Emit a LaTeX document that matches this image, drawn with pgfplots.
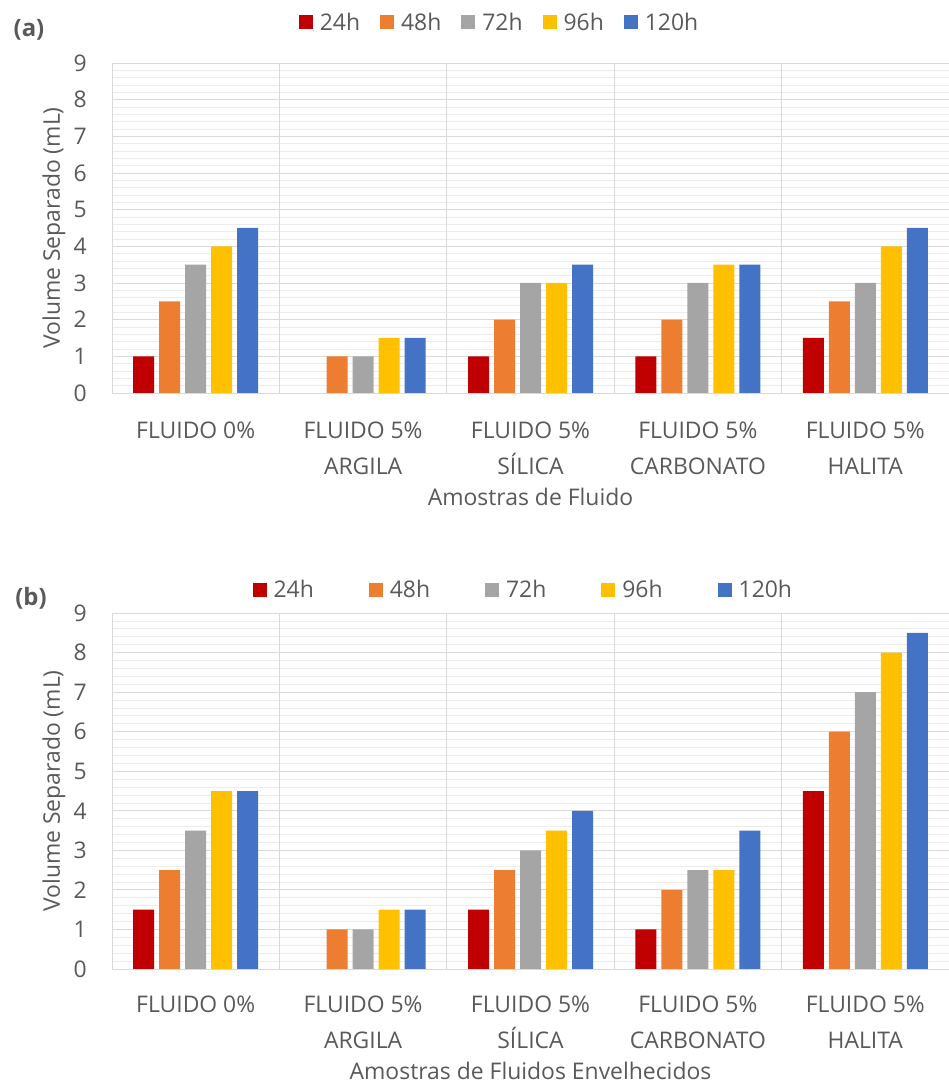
\documentclass[border=0pt]{standalone}
\usepackage{pgfplots}
\pgfplotsset{compat=1.18}
\usepackage{fontspec}
\setmainfont{Open Sans}
\definecolor{txt}{RGB}{89,89,89}
\definecolor{c24}{RGB}{192,0,0}
\definecolor{c48}{RGB}{237,125,49}
\definecolor{c72}{RGB}{165,165,165}
\definecolor{c96}{RGB}{255,192,0}
\definecolor{c120}{RGB}{68,114,196}
\definecolor{gmaj}{RGB}{217,217,217}
\definecolor{gmin}{RGB}{236,236,236}
\pgfplotsset{
 mystyle/.style={
  scale only axis, width=837bp, anchor=south west,
  ybar=5bp, bar width=21bp,
  xmin=-0.5, xmax=4.5, ymin=0, ymax=9,
  xtick={0,1,2,3,4},
  xticklabels={FLUIDO 0\%, {FLUIDO 5\%\\ARGILA}, {FLUIDO 5\%\\SÍLICA}, {FLUIDO 5\%\\CARBONATO}, {FLUIDO 5\%\\HALITA}},
  ytick={0,1,...,9},
  minor y tick num=4,
  ymajorgrids, yminorgrids,
  major grid style={gmaj, line width=0.9bp},
  minor grid style={gmin, line width=0.7bp},
  extra x ticks={0.5,1.5,2.5,3.5},
  extra x tick labels={},
  extra x tick style={grid=major},
  axis line style={gmaj, line width=0.9bp},
  tick style={draw=none},
  major tick length=0pt, minor tick length=0pt,
  ticklabel style={font=\fontsize{23}{36}\selectfont, text=txt},
  /pgf/number format/assume math mode=true,
  yticklabel style={anchor=east, inner sep=0pt, xshift=-25bp},
  xticklabel style={anchor=north, inner sep=0pt, align=center},
  label style={font=\fontsize{23}{28}\selectfont, text=txt},
  ylabel={Volume Separado (mL)},
  ylabel style={at={(axis description cs:-0.0693,0.5)}, anchor=center},
  legend columns=5,
  legend image code/.code={\fill[#1] (0bp,-7bp) rectangle (14bp,7bp);},
  legend style={draw=none, fill=none, anchor=center, font=\fontsize{23}{28}\selectfont, text=txt, nodes={inner sep=3bp},
    /tikz/every odd column/.append style={column sep=4bp}},
 }
}
\begin{document}
\begin{tikzpicture}
\useasboundingbox (0,0) rectangle (949bp,1086bp);
\node[font=\bfseries\fontsize{24}{28}\selectfont, text=txt] at (29bp,1056bp) {(a)};
\node[font=\bfseries\fontsize{24}{28}\selectfont, text=txt] at (31bp,488bp) {(b)};
\begin{axis}[mystyle, at={(112bp,693bp)}, height=330bp,
  xticklabel style={yshift=-29bp},
  xlabel={Amostras de Fluido},
  xlabel style={at={(axis description cs:0.5,-0.315)}, anchor=center},
  legend style={at={(axis description cs:0.4636,1.124)}, /tikz/every even column/.append style={column sep=17bp}}]
\addplot[fill=c24, draw=none] coordinates {(0,1) (2,1) (3,1) (4,1.5)};
\addplot[fill=c48, draw=none] coordinates {(0,2.5) (1,1) (2,2) (3,2) (4,2.5)};
\addplot[fill=c72, draw=none] coordinates {(0,3.5) (1,1) (2,3) (3,3) (4,3)};
\addplot[fill=c96, draw=none] coordinates {(0,4) (1,1.5) (2,3) (3,3.5) (4,4)};
\addplot[fill=c120, draw=none] coordinates {(0,4.5) (1,1.5) (2,3.5) (3,3.5) (4,4.5)};
\legend{24h,48h,72h,96h,120h}
\end{axis}
\begin{axis}[mystyle, at={(112bp,117bp)}, height=356bp,
  xticklabel style={yshift=-27bp},
  xlabel={Amostras de Fluidos Envelhecidos},
  xlabel style={at={(axis description cs:0.5,-0.2978)}, anchor=center, yshift=4bp},
  legend style={at={(axis description cs:0.492,1.065)}, /tikz/every even column/.append style={column sep=52bp}}]
\addplot[fill=c24, draw=none] coordinates {(0,1.5) (2,1.5) (3,1) (4,4.5)};
\addplot[fill=c48, draw=none] coordinates {(0,2.5) (1,1) (2,2.5) (3,2) (4,6)};
\addplot[fill=c72, draw=none] coordinates {(0,3.5) (1,1) (2,3) (3,2.5) (4,7)};
\addplot[fill=c96, draw=none] coordinates {(0,4.5) (1,1.5) (2,3.5) (3,2.5) (4,8)};
\addplot[fill=c120, draw=none] coordinates {(0,4.5) (1,1.5) (2,4) (3,3.5) (4,8.5)};
\legend{24h,48h,72h,96h,120h}
\end{axis}
\end{tikzpicture}
\end{document}
